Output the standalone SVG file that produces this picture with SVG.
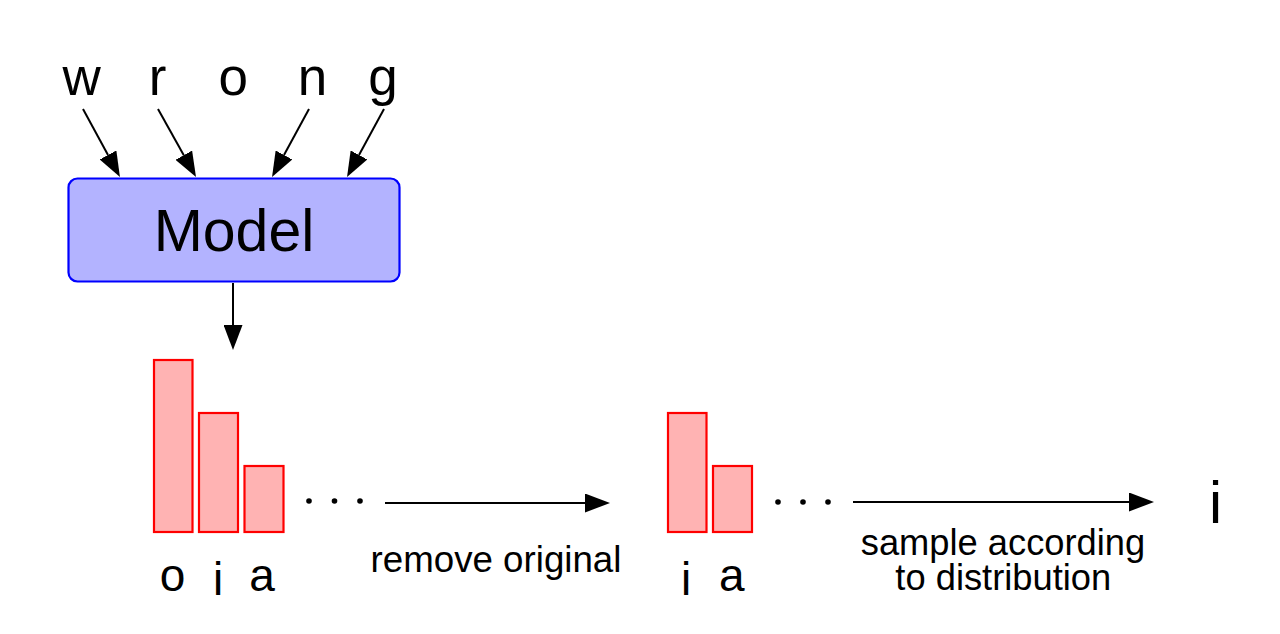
<svg xmlns="http://www.w3.org/2000/svg" width="1280" height="634" viewBox="0 0 1280 634">
  <style>
    text { font-family: "Liberation Sans", Arial, sans-serif; fill: #000; }
    .letter { font-size: 53px; text-anchor: middle; }
    .cand { font-size: 46px; text-anchor: middle; }
    .lbl { font-size: 36.7px; text-anchor: middle; }
    .lbl2 { font-size: 36.3px; text-anchor: middle; }
    .model { font-size: 59px; text-anchor: middle; }
    .bar { fill: #ffb3b3; stroke: #ff0000; stroke-width: 2.2; }
    .edge { stroke: #000; stroke-width: 2; fill: none; marker-end: url(#ah); }
    .dot { fill: #000; }
  </style>
  <defs>
    <marker id="ah" viewBox="0 0 25 19" refX="0" refY="9.5" markerWidth="25" markerHeight="19" markerUnits="userSpaceOnUse" orient="auto">
      <path d="M0,0 L25,9.5 L0,19 z" fill="#000"/>
    </marker>
  </defs>
  <rect width="1280" height="634" fill="#fff"/>

  <g id="inputs">
    <text class="letter" x="81.7" y="95">w</text>
    <text class="letter" x="157.5" y="95">r</text>
    <text class="letter" x="233.3" y="95">o</text>
    <text class="letter" x="312.5" y="95">n</text>
    <text class="letter" x="383" y="95">g</text>
  </g>

  <g id="model">
    <rect x="68.5" y="178.5" width="331" height="103" rx="9" ry="9" fill="#b3b3ff" stroke="#0000ff" stroke-width="2.2"/>
    <text class="model" x="234" y="251">Model</text>
  </g>

  <g id="dist1">
    <rect class="bar" x="154" y="360" width="38.5" height="172"/>
    <rect class="bar" x="199" y="413" width="39" height="119"/>
    <rect class="bar" x="244.5" y="466" width="39" height="66"/>
    <circle class="dot" cx="309" cy="501" r="2.8"/>
    <circle class="dot" cx="334.5" cy="501" r="2.8"/>
    <circle class="dot" cx="360" cy="501" r="2.8"/>
    <text class="cand" x="172.5" y="591">o</text>
    <text class="cand" x="218" y="594.5">i</text>
    <text class="cand" x="262" y="591">a</text>
  </g>

  <g id="dist2">
    <rect class="bar" x="668" y="413" width="38.5" height="119"/>
    <rect class="bar" x="713" y="466" width="39" height="66"/>
    <circle class="dot" cx="778" cy="502" r="2.8"/>
    <circle class="dot" cx="803" cy="502" r="2.8"/>
    <circle class="dot" cx="828" cy="502" r="2.8"/>
    <text class="cand" x="686" y="594.5">i</text>
    <text class="cand" x="731.7" y="591">a</text>
  </g>

  <g id="output">
    <text class="model" x="1215.5" y="523.3">i</text>
  </g>

  <g id="connectors">
    <line class="edge" x1="83" y1="109" x2="108" y2="155"/>
    <line class="edge" x1="158" y1="109" x2="183.8" y2="155.2"/>
    <line class="edge" x1="309" y1="109" x2="284" y2="155"/>
    <line class="edge" x1="384" y1="109" x2="359" y2="155"/>
    <line class="edge" x1="233" y1="283" x2="233" y2="325"/>
    <line class="edge" x1="385" y1="503" x2="585" y2="503"/>
    <line class="edge" x1="853" y1="502" x2="1129" y2="502"/>
    <text class="lbl" x="496" y="571.7">remove original</text>
    <text class="lbl2" x="1003" y="554.5">sample according</text>
    <text class="lbl2" x="1003.3" y="590">to distribution</text>
  </g>
</svg>
